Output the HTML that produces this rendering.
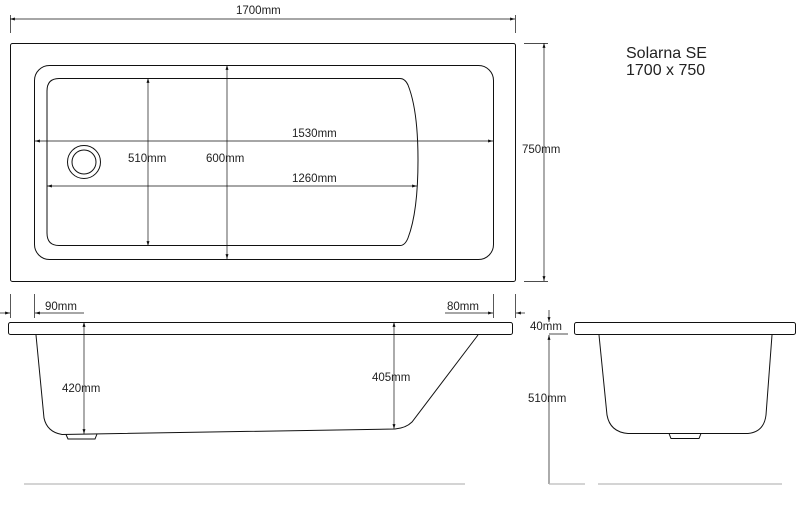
<!DOCTYPE html>
<html><head><meta charset="utf-8"><style>
html,body{margin:0;padding:0;background:#fff;}
svg{display:block;}
text{font-family:"Liberation Sans",sans-serif;font-size:11.5px;fill:#222;}
</style></head><body>
<svg width="800" height="515" viewBox="0 0 800 515" xmlns="http://www.w3.org/2000/svg">
<defs>
<marker id="a" viewBox="0 0 10 10" refX="10" refY="5" markerWidth="7" markerHeight="7" orient="auto-start-reverse"><path d="M0,2 L10,5 L0,8 z" fill="#111"/></marker>
</defs>
<g fill="none" stroke="#111" stroke-width="1">
<!-- top view -->
<rect x="10.5" y="43.5" width="505" height="238" rx="2"/>
<rect x="34.5" y="65.5" width="459" height="194" rx="15"/>
<path d="M59,78.5 L400,78.5 Q405,78.5 408,85 Q418,110 418,160 Q418,212 408,238 Q405,245.5 400,245.5 L59,245.5 Q47,245.5 47,233 L47,91 Q47,78.5 59,78.5 Z"/>
<circle cx="84" cy="162" r="16.5"/>
<circle cx="84" cy="162" r="12"/>
<!-- dims top -->
<line x1="10" y1="19" x2="515" y2="19" stroke-width="0.7" marker-start="url(#a)" marker-end="url(#a)"/>
<line x1="10.5" y1="15" x2="10.5" y2="33" stroke-width="0.7"/>
<line x1="515.5" y1="15" x2="515.5" y2="33" stroke-width="0.7"/>
<line x1="544" y1="43" x2="544" y2="281" stroke-width="0.7" marker-start="url(#a)" marker-end="url(#a)"/>
<line x1="524" y1="43.5" x2="548" y2="43.5" stroke-width="0.7"/>
<line x1="524" y1="281.5" x2="548" y2="281.5" stroke-width="0.7"/>
<line x1="35" y1="141" x2="493" y2="141" stroke-width="0.7" marker-start="url(#a)" marker-end="url(#a)"/>
<line x1="47" y1="186" x2="417" y2="186" stroke-width="0.7" marker-start="url(#a)" marker-end="url(#a)"/>
<line x1="148" y1="78" x2="148" y2="246" stroke-width="0.7" marker-start="url(#a)" marker-end="url(#a)"/>
<line x1="227" y1="65" x2="227" y2="259" stroke-width="0.7" marker-start="url(#a)" marker-end="url(#a)"/>
<line x1="10.5" y1="294" x2="10.5" y2="318" stroke-width="0.7"/>
<line x1="34.5" y1="294" x2="34.5" y2="318" stroke-width="0.7"/>
<line x1="0" y1="313" x2="10" y2="313" stroke-width="0.7" marker-end="url(#a)"/>
<line x1="84" y1="313" x2="35" y2="313" stroke-width="0.7" marker-end="url(#a)"/>
<line x1="493.5" y1="294" x2="493.5" y2="318" stroke-width="0.7"/>
<line x1="515.5" y1="294" x2="515.5" y2="318" stroke-width="0.7"/>
<line x1="445" y1="313" x2="493" y2="313" stroke-width="0.7" marker-end="url(#a)"/>
<line x1="525" y1="313" x2="516" y2="313" stroke-width="0.7" marker-end="url(#a)"/>
<!-- side view -->
<rect x="8.5" y="322.5" width="504" height="12" rx="2"/>
<path d="M36,335 L44,418 Q47,432 62,434.5 L395,429 Q406,428 412,422 L478,335"/>
<path d="M66,434.5 L68,439 L95,439 L97,434"/>
<line x1="84" y1="322" x2="84" y2="434" stroke-width="0.7" marker-start="url(#a)" marker-end="url(#a)"/>
<line x1="394" y1="322" x2="394" y2="429" stroke-width="0.7" marker-start="url(#a)" marker-end="url(#a)"/>
<!-- end view -->
<rect x="574.5" y="322.5" width="221" height="12" rx="2"/>
<path d="M599,335 L607,415 Q610,432 628,433.5 L748,433.5 Q764,432 766,415 L772,335"/>
<path d="M669,433.5 L671,438.5 L699,438.5 L701,433.5"/>
<line x1="549" y1="310" x2="549" y2="322" stroke-width="0.7" marker-end="url(#a)"/>
<line x1="549" y1="484" x2="549" y2="335" stroke-width="0.7" marker-end="url(#a)"/>
<line x1="549" y1="334" x2="568" y2="334" stroke-width="0.7"/>
</g>
<g stroke="#bbb" stroke-width="1.2">
<line x1="24" y1="484" x2="465" y2="484"/>
<line x1="549" y1="484" x2="585" y2="484"/>
<line x1="598" y1="484" x2="782" y2="484"/>
</g>
<g>
<text x="236" y="14">1700mm</text>
<text x="522" y="153">750mm</text>
<text x="292" y="137">1530mm</text>
<text x="292" y="182">1260mm</text>
<text x="128" y="162">510mm</text>
<text x="206" y="162">600mm</text>
<text x="45" y="310">90mm</text>
<text x="447" y="310">80mm</text>
<text x="62" y="392">420mm</text>
<text x="372" y="381">405mm</text>
<text x="530" y="330">40mm</text>
<text x="528" y="402">510mm</text>
<text x="626" y="58" style="font-size:16px">Solarna SE</text>
<text x="626" y="75" style="font-size:16px">1700 x 750</text>
</g>
</svg>
</body></html>
